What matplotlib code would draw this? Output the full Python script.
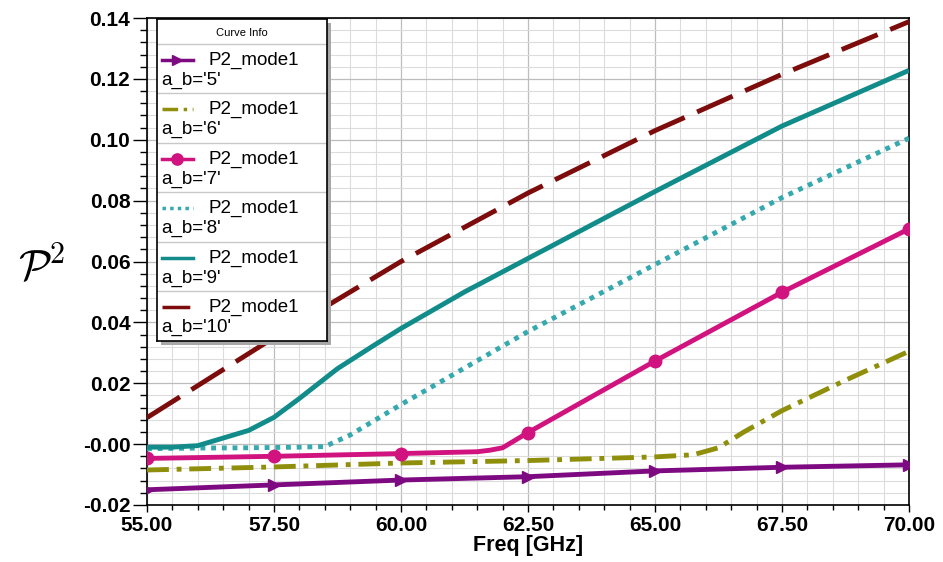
import matplotlib.pyplot as plt
from matplotlib.ticker import MultipleLocator
from matplotlib.patches import Rectangle

# values
freq_5 = [55, 57.5, 60, 62.5, 65, 67.5, 70]
p2_5 = [-0.0150, -0.0134, -0.0118, -0.0107, -0.0088, -0.0076, -0.0068]

freq_6 = [55, 57.5, 60, 62.5, 65, 65.75, 66.25, 66.75, 67.5, 68.75, 70]
p2_6 = [-0.0085, -0.0075, -0.0062, -0.0054, -0.0042, -0.0035, -0.0012, 0.0040, 0.0110, 0.0210, 0.0305]

freq_7 = [55, 57.5, 60, 61.5, 61.75, 62, 62.5, 65, 67.5, 70]
p2_7 = [-0.0047, -0.0040, -0.0031, -0.0025, -0.0020, -0.0012, 0.0038, 0.0273, 0.0499, 0.0707]

freq_8 = [55, 56, 57, 58, 58.5, 59, 59.5, 60, 61.25, 62.5, 65, 67.5, 70]
p2_8 = [-0.0015, -0.0013, -0.0012, -0.0010, -0.0008, 0.0030, 0.0080, 0.0130, 0.0250, 0.0370, 0.0590, 0.0810, 0.1005]

freq_9 = [55, 55.5, 56, 56.5, 57, 57.5, 58, 58.75, 59.5, 60, 61.25, 62.5, 65, 67.5, 70]
p2_9 = [-0.0010, -0.0010, -0.0005, 0.0020, 0.0045, 0.0088, 0.0150, 0.0248, 0.0328, 0.0380, 0.0500, 0.0610, 0.0830, 0.1045, 0.1228]

freq_10 = [55, 57.5, 60, 62.5, 65, 67.5, 70]
p2_10 = [0.0087, 0.0350, 0.0600, 0.0825, 0.1030, 0.1215, 0.1388]

series_names = ["a_b='5'", "a_b='6'", "a_b='7'", "a_b='8'", "a_b='9'", "a_b='10'"]
x_ticks = [55, 57.5, 60, 62.5, 65, 67.5, 70]
x_tick_labels = ['55.00', '57.50', '60.00', '62.50', '65.00', '67.50', '70.00']
y_ticks = [-0.02, 0.0, 0.02, 0.04, 0.06, 0.08, 0.10, 0.12, 0.14]
y_tick_labels = ['-0.02', '-0.00', '0.02', '0.04', '0.06', '0.08', '0.10', '0.12', '0.14']

plt.rcParams['font.family'] = ['Liberation Sans', 'DejaVu Sans']

lw = 3.5
styles = [
    dict(color='#7e0a82', ls='-', marker='>', ms=8),
    dict(color='#8f8f0c', ls=(0, (4.5, 1.6, 1, 1.6)), marker=None, ms=0),
    dict(color='#d0137e', ls='-', marker='o', ms=9),
    dict(color='#35a9ad', ls=(0, (1, 1.2)), marker=None, ms=0),
    dict(color='#118c8a', ls='-', marker=None, ms=0),
    dict(color='#7d0c0c', ls=(0, (8, 2.8)), marker=None, ms=0),
]
data = [(freq_5, p2_5), (freq_6, p2_6), (freq_7, p2_7),
        (freq_8, p2_8), (freq_9, p2_9), (freq_10, p2_10)]

fig = plt.figure(figsize=(9.43, 5.62), dpi=100)
ax = fig.add_axes([147 / 943, 57 / 562, 762 / 943, 487 / 562])

for (fx, fy), st in zip(data, styles):
    marks = [i for i, f in enumerate(fx) if f % 2.5 == 0]
    ax.plot(fx, fy, color=st['color'], ls=st['ls'], lw=lw, marker=st['marker'],
            ms=st['ms'], markevery=marks, markeredgecolor=st['color'],
            dash_capstyle='butt', solid_capstyle='butt', solid_joinstyle='round', zorder=3)

ax.set_xlim(55, 70)
ax.set_ylim(-0.02, 0.14)
ax.set_xticks(x_ticks)
ax.set_xticklabels(x_tick_labels)
ax.set_yticks(y_ticks)
ax.set_yticklabels(y_tick_labels)
ax.xaxis.set_minor_locator(MultipleLocator(0.5))
ax.yaxis.set_minor_locator(MultipleLocator(0.004))
ax.grid(which='minor', color='#dcdcdc', lw=0.8, zorder=0)
ax.grid(which='major', color='#bdbdbd', lw=0.9, zorder=0)
ax.set_axisbelow(True)
for lab in ax.get_xticklabels() + ax.get_yticklabels():
    lab.set_fontweight('bold')
    lab.set_fontsize(15)
ax.tick_params(axis='y', which='major', length=10, width=1, pad=2)
ax.tick_params(axis='y', which='minor', length=5, width=1)
ax.tick_params(axis='x', which='major', length=5, width=1, pad=3)
ax.tick_params(axis='x', which='minor', length=3.5, width=1)
for sp in ax.spines.values():
    sp.set_linewidth(1.2)

ax.set_xlabel('Freq [GHz]', fontsize=15.5, fontweight='bold', labelpad=0)
fig.text(42 / 943, 1 - 268 / 562, r'$\mathcal{P}^{2}$', fontsize=31,
         math_fontfamily='cm', ha='center', va='center')

# legend box ("Curve Info")
left, right, top, bottom = 157, 327, 19, 341
fig.patches.append(Rectangle(((left + 4) / 943, 1 - (bottom + 4) / 562),
                             (right - left) / 943, (bottom - top) / 562,
                             transform=fig.transFigure, facecolor='#a8a8a8',
                             edgecolor='none', zorder=4))
leg = fig.add_axes([left / 943, 1 - bottom / 562, (right - left) / 943, (bottom - top) / 562])
leg.set_zorder(5)
leg.set_xlim(left, right)
leg.set_ylim(bottom, top)
leg.set_xticks([])
leg.set_yticks([])
for sp in leg.spines.values():
    sp.set_linewidth(1.2)
leg.text((left + right) / 2, 33, 'Curve Info', fontsize=8, ha='center', va='center')
row_h = (bottom - 44) / len(series_names)
leg.axhline(44, color='#c8c8c8', lw=1)
for i, (name, st) in enumerate(zip(series_names, styles)):
    y0 = 44 + i * row_h
    if i > 0:
        leg.axhline(y0, color='#c8c8c8', lw=1)
    leg.plot([162, 177, 193], [y0 + 16] * 3, color=st['color'], ls=st['ls'], lw=2.5,
             marker=st['marker'], ms=st['ms'] * 0.9, markevery=[1],
             markeredgecolor=st['color'], dash_capstyle='butt')
    leg.text(208, y0 + 16, 'P2_mode1', fontsize=13.5, ha='left', va='center')
    leg.text(161, y0 + 36, name, fontsize=13.5, ha='left', va='center')

plt.savefig('out.png', dpi=100)
